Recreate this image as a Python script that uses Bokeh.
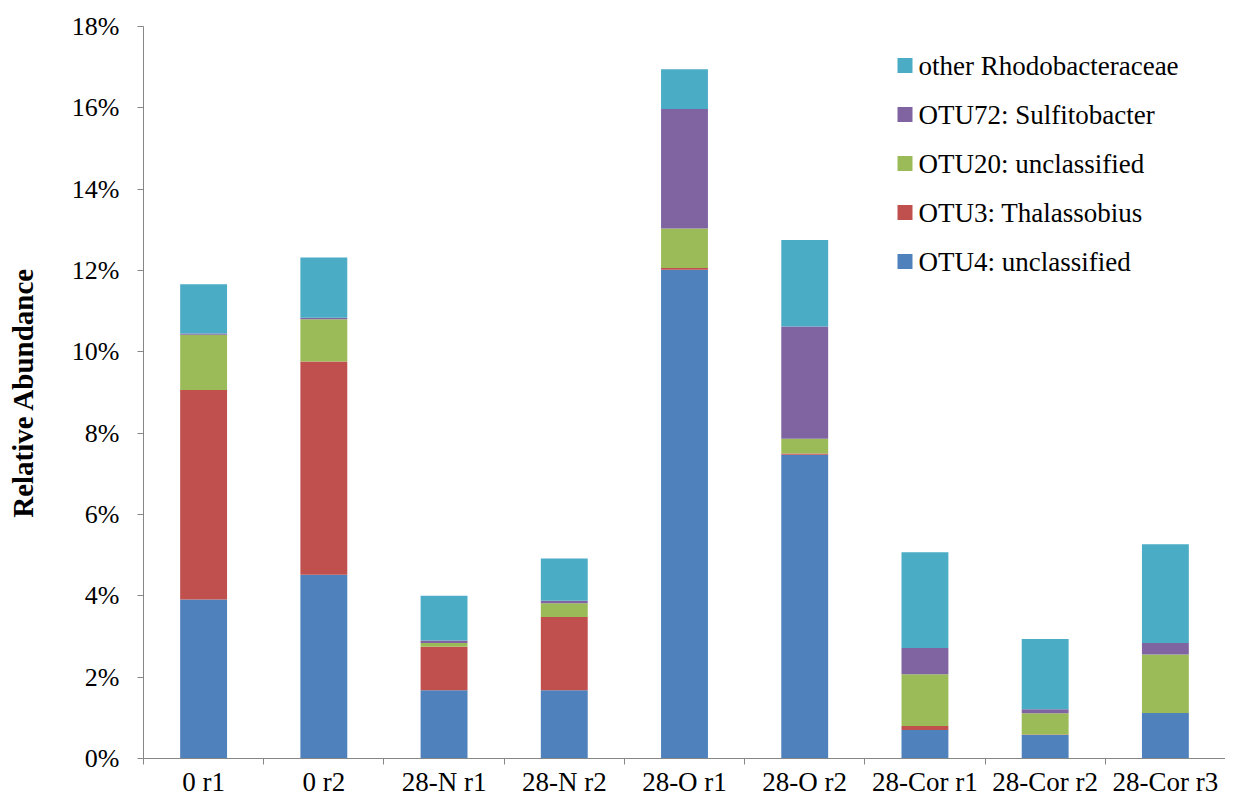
from bokeh.plotting import figure
from bokeh.models import (ColumnDataSource, Range1d, FixedTicker, PrintfTickFormatter,
                          BoxAnnotation)
from bokeh.core.properties import value
from bokeh.embed import file_html
from bokeh.resources import INLINE

# ---- data (relative abundance, %) ----
samples = ["0 r1", "0 r2", "28-N r1", "28-N r2", "28-O r1", "28-O r2",
           "28-Cor r1", "28-Cor r2", "28-Cor r3"]
otu4 = [3.91, 4.52, 1.68, 1.68, 12.02, 7.47, 0.70, 0.58, 1.12]
otu3 = [5.15, 5.24, 1.07, 1.80, 0.04, 0.03, 0.10, 0.01, 0.00]
otu20 = [1.36, 1.04, 0.09, 0.34, 0.97, 0.36, 1.27, 0.52, 1.44]
otu72 = [0.03, 0.04, 0.06, 0.06, 2.94, 2.76, 0.65, 0.10, 0.28]
other = [1.21, 1.48, 1.10, 1.04, 0.98, 2.13, 2.35, 1.73, 2.43]

series_keys = ["otu4", "otu3", "otu20", "otu72", "other"]
series_names = ["OTU4: unclassified", "OTU3: Thalassobius", "OTU20: unclassified",
                "OTU72: Sulfitobacter", "other Rhodobacteraceae"]
colors = ["#4F81BD", "#C0504D", "#9BBB59", "#8064A2", "#4BACC6"]
y_ticks = [0, 2, 4, 6, 8, 10, 12, 14, 16, 18]

xpos = list(range(1, len(samples) + 1))
source = ColumnDataSource(dict(x=xpos, otu4=otu4, otu3=otu3, otu20=otu20,
                               otu72=otu72, other=other))

FONT = "Liberation Serif"
X_MAX = len(samples) + 0.5
Y_MAX = y_ticks[-1]

p = figure(width=1225, height=799, output_backend="svg", toolbar_location=None,
           x_range=Range1d(0.5, X_MAX), y_range=Range1d(0, Y_MAX),
           min_border_left=143, min_border_right=0, min_border_top=26,
           min_border_bottom=10)
p.outline_line_color = None
p.background_fill_color = "white"
p.border_fill_color = "white"
p.xgrid.visible = False
p.ygrid.visible = False

p.vbar_stack(series_keys, x="x", width=0.39, source=source,
             color=colors, line_color=None)

# ---- legend (top-right, reversed order), placed in pixels from the frame corners ----
LEG_ROW0 = 39      # px below frame top of first row centre
LEG_STEP = 49
LEG_SW_LEFT = 754  # swatch left, px from frame left
SW = 15
LEG_TEXT_DX = -307  # text start, px from frame right
FRAME_H = 732

leg_names = list(reversed(series_names))
leg_colors = list(reversed(colors))
for i, col in enumerate(leg_colors):
    cy = FRAME_H - (LEG_ROW0 + i * LEG_STEP)
    p.add_layout(BoxAnnotation(left=LEG_SW_LEFT, right=LEG_SW_LEFT + SW,
                               bottom=cy - SW / 2, top=cy + SW / 2,
                               left_units="screen", right_units="screen",
                               bottom_units="screen", top_units="screen",
                               fill_color=col, fill_alpha=1.0, line_color=None,
                               editable=False))

leg_src = ColumnDataSource(dict(
    x=[X_MAX] * len(leg_names), y=[Y_MAX] * len(leg_names), text=leg_names,
    dy=[LEG_ROW0 + i * LEG_STEP for i in range(len(leg_names))]))
p.text(x="x", y="y", text="text", source=leg_src, x_offset=LEG_TEXT_DX, y_offset="dy",
       text_baseline="middle", text_align="left", text_font=value(FONT),
       text_font_size=value("27px"), text_color="black")

# ---- x axis: labels at centres, ticks between categories ----
xa = p.xaxis[0]
xa.ticker = FixedTicker(ticks=xpos, minor_ticks=[i + 0.5 for i in range(0, len(samples) + 1)])
xa.major_label_overrides = {i: s for i, s in zip(xpos, samples)}
xa.major_tick_out = 0
xa.major_tick_in = 0
xa.minor_tick_out = 6
xa.minor_tick_in = 0
xa.minor_tick_line_color = "#868686"
xa.axis_line_color = "#868686"
xa.major_label_standoff = 2
xa.major_label_text_font = FONT
xa.major_label_text_font_size = "27px"
xa.major_label_text_color = "black"

# ---- y axis ----
ya = p.yaxis[0]
ya.ticker = FixedTicker(ticks=y_ticks, minor_ticks=[])
ya.formatter = PrintfTickFormatter(format="%d%%")
ya.major_tick_out = 6
ya.major_tick_in = 0
ya.minor_tick_out = 0
ya.minor_tick_in = 0
ya.major_tick_line_color = "#868686"
ya.axis_line_color = "#868686"
ya.major_label_standoff = 18
ya.major_label_text_font = FONT
ya.major_label_text_font_size = "26px"
ya.major_label_text_color = "black"
ya.axis_label = "Relative Abundance"
ya.axis_label_text_font = FONT
ya.axis_label_text_font_size = "29px"
ya.axis_label_text_font_style = "bold"
ya.axis_label_text_color = "black"
ya.axis_label_standoff = 30

open("out.html", "w").write(file_html(p, INLINE))
